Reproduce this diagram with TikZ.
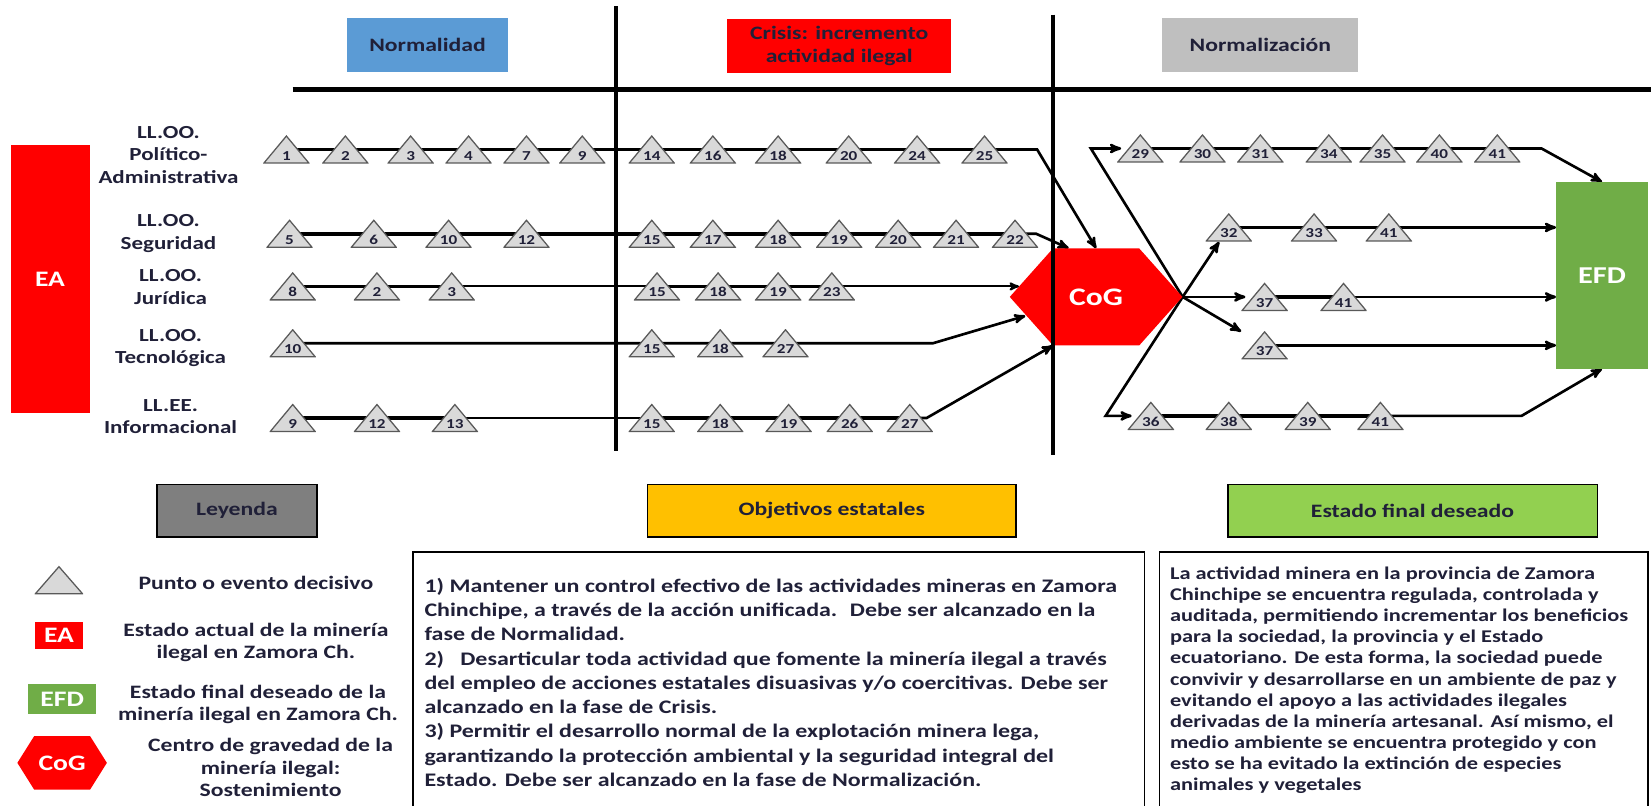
\documentclass[tikz,border=0pt]{standalone}
\usepackage{fontspec}
\setmainfont{Carlito}[FakeStretch=1.25]
\usetikzlibrary{arrows}
\usetikzlibrary{backgrounds}

\definecolor{txt}{RGB}{32,32,56}
\definecolor{normblue}{RGB}{91,155,213}
\definecolor{crisisred}{RGB}{255,0,0}
\definecolor{normgray}{RGB}{191,191,191}
\definecolor{efdgreen}{RGB}{112,173,71}
\definecolor{leygray}{RGB}{127,127,127}
\definecolor{objamber}{RGB}{255,192,0}
\definecolor{finalgreen}{RGB}{146,208,80}
\definecolor{trifill}{RGB}{217,217,217}
\definecolor{tridraw}{RGB}{89,89,89}

\tikzset{
 evt/.style={minimum width=44pt, minimum height=27pt, inner sep=0pt, text height=20pt, text depth=0pt,
  text=txt, font=\fontsize{13}{13}\selectfont\bfseries,
  path picture={\draw[draw=tridraw, fill=trifill, line width=1.2pt]
   ([shift={(.7pt,.7pt)}]path picture bounding box.south west) --
   ([shift={(-.7pt,.7pt)}]path picture bounding box.south east) --
   ([yshift=-.7pt]path picture bounding box.north) -- cycle;}},
 hexa/.style={inner sep=0pt, path picture={\fill[crisisred]
   (path picture bounding box.west) -- ([xshift=#1]path picture bounding box.north west) --
   ([xshift=-#1]path picture bounding box.north east) -- (path picture bounding box.east) --
   ([xshift=-#1]path picture bounding box.south east) -- ([xshift=#1]path picture bounding box.south west) -- cycle;}},
 lnk/.style={line width=3.5pt},
 lnkthin/.style={line width=2pt},
 arr/.style={line width=2.5pt, ->, >=stealth'},
 phase/.style={minimum height=51.5pt, inner sep=0pt, text=txt, align=center, font=\fontsize{18}{22}\selectfont\bfseries},
 rowlab/.style={align=center, text=txt, font=\fontsize{17.5}{21.5}\selectfont\bfseries},
 bigbox/.style={text=white, inner sep=0pt, font=\fontsize{21}{21}\selectfont\bfseries},
 sechead/.style={draw=black, line width=1.5pt, minimum height=50pt, inner sep=0pt, text=txt, font=\fontsize{18}{22}\selectfont\bfseries},
 legtxt/.style={align=center, text=txt, font=\fontsize{18}{21.5}\selectfont\bfseries},
 bodytxt/.style={align=left, inner sep=0pt, text=txt}
}

\begin{document}
\begin{tikzpicture}[x=1pt,y=-1pt]
\useasboundingbox (0,0) rectangle (1568,765);

\node[phase, fill=normblue, minimum width=153pt] (fnorm) at (406,43) {Normalidad};
\node[phase, fill=crisisred, minimum width=213pt] (fcris) at (797,44) {Crisis: incremento\\actividad ilegal};
\node[phase, fill=normgray, minimum width=186pt] (fnorz) at (1197,43) {Normalización};
\draw[line width=4.5pt] (278,85) -- (1568,85);

\node[bigbox, fill=crisisred, minimum width=75pt, minimum height=254pt] (ea) at (47.5,265) {EA};
\node[bigbox, fill=efdgreen, minimum width=87pt, minimum height=177pt, font=\fontsize{23}{23}\selectfont\bfseries] (efd) at (1521.5,261.5) {EFD};
\node[hexa=41pt, bigbox, minimum width=164pt, minimum height=92pt, font=\fontsize{24}{24}\selectfont\bfseries] (cog) at (1041,282) {CoG};

\node[rowlab] (lpol) at (160,147) {LL.OO.\\Político-\\Administrativa};
\node[rowlab] (lseg) at (160,221.5) {LL.OO.\\Seguridad};
\node[rowlab] (ljur) at (162,272.5) {LL.OO.\\Jurídica};
\node[rowlab] (ltec) at (162,330.5) {LL.OO.\\Tecnológica};
\node[rowlab] (linf) at (162,395.5) {LL.EE.\\Informacional};

\foreach \n/\x [count=\i] in {1/272,2/328,3/390,4/445,7/500,9/553,14/619,16/677,18/739,20/806,24/871,25/935}
  \node[evt] (pol\i) at (\x,142) {\n};
\foreach \n/\x [count=\i] in {5/275,6/355,10/426,12/500,15/619,17/677,18/739,19/797,20/853,21/908,22/964}
  \node[evt] (seg\i) at (\x,222) {\n};
\foreach \n/\x [count=\i] in {8/278,2/358,3/429,15/624,18/682,19/739,23/790}
  \node[evt] (jur\i) at (\x,272) {\n};
\foreach \n/\x [count=\i] in {10/278,15/619,18/684,27/746}
  \node[evt] (tec\i) at (\x,326) {\n};
\foreach \n/\x [count=\i] in {9/278,12/358,13/432,15/619,18/684,19/749,26/807,27/864}
  \node[evt] (inf\i) at (\x,397) {\n};

\foreach \n/\x [count=\i] in {29/1083,30/1142,31/1197,34/1262,35/1313,40/1367,41/1422}
  \node[evt] (fa\i) at (\x,141) {\n};
\foreach \n/\x [count=\i] in {32/1167,33/1248,41/1319}
  \node[evt] (fb\i) at (\x,216) {\n};
\foreach \n/\x [count=\i] in {37/1201,41/1276}
  \node[evt] (fc\i) at (\x,282) {\n};
\node[evt] (fd1) at (1201,328) {37};
\foreach \n/\x [count=\i] in {36/1093,38/1167,39/1242,41/1311}
  \node[evt] (fe\i) at (\x,395) {\n};

\begin{scope}[on background layer]
\draw[lnk] (pol1.center) -- (pol12.center);
\draw[arr] (pol12.center) -- (985,142) -- (cog.north);
\draw[lnk] (seg1.center) -- (seg11.center);
\draw[arr] (seg11.center) -- (984,222) -- ([xshift=-26pt]cog.north);
\draw[lnk] (jur1.center) -- (jur3.center);
\draw[lnkthin] (jur3.center) -- (jur4.center);
\draw[lnk] (jur4.center) -- (jur7.center);
\draw[arr, line width=2pt] (jur7.center) -- ([shift={(9pt,10pt)}]cog.west);
\draw[arr] (tec1.center) -- (tec4.center) -- (886,326) -- ([shift={(15pt,-18pt)}]cog.west);
\draw[lnk] (inf1.center) -- (inf3.center);
\draw[lnkthin] (inf3.center) -- (inf4.center);
\draw[lnk] (inf4.center) -- (inf8.center);
\draw[arr] (inf8.center) -- (880,397) -- ([xshift=-41pt]cog.south);

\draw[arr, shorten >=-4pt] (cog.east) -- (1036,141) -- (fa1);
\draw[lnk] (fa1.center) -- (fa7.center);
\draw[arr] (fa7.center) -- (1464,141) -- (efd.north);
\draw[arr] (cog.east) -- (fb1);
\draw[lnk] (fb1.center) -- (fb3.center);
\draw[arr] (fb3.center) -- (efd.west |- fb3);
\draw[arr, shorten >=-4pt] (cog.east) -- (fc1);
\draw[lnk] (fc1.center) -- (fc2.center);
\draw[arr] (fc2.center) -- (efd.west |- fc2);
\draw[arr] (cog.east) -- (fd1);
\draw[arr] (fd1.center) -- (efd.west |- fd1);
\draw[arr, shorten >=-4pt] (cog.east) -- (1050,395) -- (fe1);
\draw[lnk] (fe1.center) -- (fe4.center);
\draw[arr] (fe4.center) -- (1445,395) -- (efd.south);
\end{scope}

\draw[line width=4.5pt] (585,6) -- (585,428);
\draw[line width=4pt] (1000,14) -- (1000,432);

\node[sechead, fill=leygray, minimum width=152pt] (hley) at (225,485) {Leyenda};
\node[sechead, fill=objamber, minimum width=350pt] (hobj) at (790,485) {Objetivos estatales};
\node[sechead, fill=finalgreen, minimum width=351pt] (hfin) at (1341.5,485) {Estado final deseado};

\node[evt, minimum width=46pt] (lgtri) at (56,551) {};
\node[bigbox, fill=crisisred, minimum width=46pt, minimum height=25pt] (lgea) at (56,603.5) {EA};
\node[bigbox, fill=efdgreen, minimum width=64pt, minimum height=28pt] (lgefd) at (59,664) {EFD};
\node[hexa=16pt, bigbox, minimum width=85pt, minimum height=51pt] (lgcog) at (59,724.5) {CoG};
\node[legtxt] (lttri) at (243,554) {Punto o evento decisivo};
\node[legtxt] (ltea) at (243,610) {Estado actual de la minería\\ilegal en Zamora Ch.};
\node[legtxt] (ltefd) at (245,669) {Estado final deseado de la\\minería ilegal en Zamora Ch.};
\node[legtxt] (ltcog) at (257,729) {Centro de gravedad de la\\minería ilegal:\\Sostenimiento};

\draw[line width=1.5pt] (392,770) -- (392,524) -- (1087,524) -- (1087,770);
\draw[line width=1.5pt] (1101,770) -- (1101,524) -- (1565,524) -- (1565,770);

\node[bodytxt, anchor=north west, font=\fontsize{18.2}{23}\selectfont\bfseries] (objtxt) at (403,549) {1) Mantener un control efectivo de las actividades mineras en Zamora\\
Chinchipe, a través de la acción unificada.~ Debe ser alcanzado en la\\
fase de Normalidad.\\
2)~~ Desarticular toda actividad que fomente la minería ilegal a través\\
del empleo de acciones estatales disuasivas y/o coercitivas. Debe ser\\
alcanzado en la fase de Crisis.\\
3) Permitir el desarrollo normal de la explotación minera lega,\\
garantizando la protección ambiental y la seguridad integral del\\
Estado. Debe ser alcanzado en la fase de Normalización.};

\node[bodytxt, anchor=north west, font=\fontsize{17}{20.1}\selectfont\bfseries] (efdtxt) at (1111,538) {La actividad minera en la provincia de Zamora\\
Chinchipe se encuentra regulada, controlada y\\
auditada, permitiendo incrementar los beneficios\\
para la sociedad, la provincia y el Estado\\
ecuatoriano. De esta forma, la sociedad puede\\
convivir y desarrollarse en un ambiente de paz y\\
evitando el apoyo a las actividades ilegales\\
derivadas de la minería artesanal. Así mismo, el\\
medio ambiente se encuentra protegido y con\\
esto se ha evitado la extinción de especies\\
animales y vegetales};
\end{tikzpicture}
\end{document}
